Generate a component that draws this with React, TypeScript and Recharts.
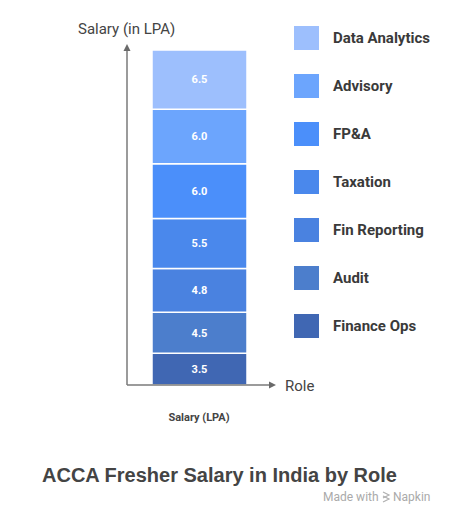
import React from 'react';
import { BarChart, Bar, XAxis, YAxis, LabelList } from 'recharts';

const roles = ['Finance Ops', 'Audit', 'Fin Reporting', 'Taxation', 'FP&A', 'Advisory', 'Data Analytics'];
const salaries = [3.5, 4.5, 4.8, 5.5, 6.0, 6.0, 6.5];
const colors = ['#4067B3', '#4C7ECC', '#4A82E0', '#4A88EC', '#4B8FFA', '#6CA5FD', '#9DBFFD'];
const category = 'Salary (LPA)';
const yAxisTitle = 'Salary (in LPA)';
const xAxisTitle = 'Role';
const title = 'ACCA Fresher Salary in India by Role';

const row: Record<string, string | number> = { name: category };
roles.forEach((r, i) => {
  row[r] = salaries[i];
});
const data = [row];

const legendItems = roles.map((r, i) => ({ name: r, color: colors[i] })).reverse();

const FONT = 'Roboto, "Noto Sans", sans-serif';

export default function App() {
  return (
    <div style={{ position: 'fixed', left: 0, top: 0, width: 456, height: 525, background: '#fff' }}>
      <BarChart
        width={456}
        height={525}
        data={data}
        margin={{ top: 50, right: 185, left: 126, bottom: 100 }}
      >
        <YAxis
          width={1}
          tick={false}
          tickLine={false}
          axisLine={{ stroke: '#7a7a7a', strokeWidth: 1.5 }}
          domain={[0, 'dataMax']}
        />
        <XAxis
          dataKey="name"
          height={40}
          tickLine={false}
          tickMargin={22}
          axisLine={{ stroke: '#7a7a7a', strokeWidth: 1.5 }}
          tick={{ fontSize: 11, fontWeight: 700, fill: '#444', fontFamily: FONT }}
        />
        {roles.map((r, i) => (
          <Bar
            key={r}
            dataKey={r}
            stackId="a"
            fill={colors[i]}
            stroke="#ffffff"
            strokeWidth={1.5}
            barSize={95}
            isAnimationActive={false}
          >
            <LabelList
              dataKey={r}
              position="center"
              formatter={(v: any) => Number(v).toFixed(1)}
              style={{ fill: '#fff', fontSize: 11, fontWeight: 700, fontFamily: FONT }}
            />
          </Bar>
        ))}
      </BarChart>
      <svg
        width={456}
        height={525}
        style={{ position: 'absolute', left: 0, top: 0, pointerEvents: 'none' }}
      >
        <polygon points="127,44 123.5,51 130.5,51" fill="#6a6a6a" />
        <polygon points="276,385 269,381.5 269,388.5" fill="#6a6a6a" />
        <text x={78} y={34} fontSize={15} fill="#444" fontFamily={FONT}>
          {yAxisTitle}
        </text>
        <text x={285} y={391} fontSize={15} fill="#444" fontFamily={FONT}>
          {xAxisTitle}
        </text>
        {legendItems.map((it, i) => (
          <g key={it.name}>
            <rect x={294} y={26 + i * 48} width={25} height={24} fill={it.color} />
            <text
              x={333}
              y={43 + i * 48}
              fontSize={15}
              fontWeight={700}
              fill="#3a3a3a"
              fontFamily={FONT}
            >
              {it.name}
            </text>
          </g>
        ))}
        <text
          x={42}
          y={482}
          fontSize={20}
          fontWeight={700}
          fill="#444"
          fontFamily='"Liberation Sans", Arial, sans-serif'
        >
          {title}
        </text>
        <text x={323} y={501} fontSize={12} fill="#aaa" fontFamily={FONT}>
          Made with
        </text>
        <g stroke="#b0b0b0" strokeWidth={1.2} fill="none">
          <path d="M383,492 L389,495 L383,498" />
          <path d="M383,496 L389,499 L383,502" />
        </g>
        <text x={393} y={501} fontSize={12} fill="#aaa" fontFamily={FONT}>
          Napkin
        </text>
      </svg>
    </div>
  );
}
